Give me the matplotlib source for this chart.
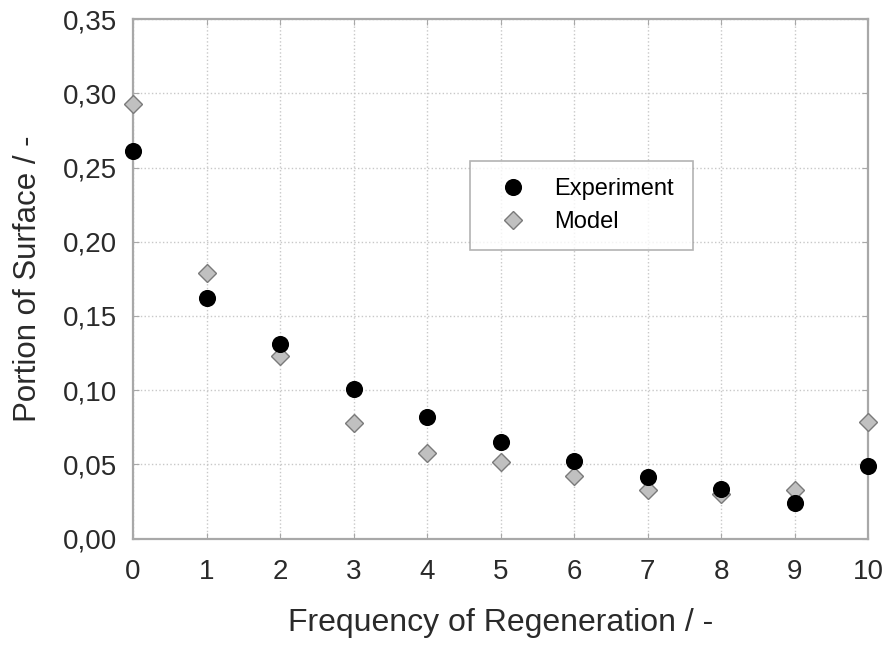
import matplotlib
matplotlib.use("Agg")
import matplotlib.pyplot as plt
from matplotlib.ticker import FuncFormatter, MultipleLocator

plt.rcParams["font.family"] = ["Liberation Sans", "DejaVu Sans"]

# regeneration frequency and surface portions
frequency = [0, 1, 2, 3, 4, 5, 6, 7, 8, 9, 10]
experiment = [0.261, 0.162, 0.131, 0.101, 0.0817, 0.0652, 0.0522, 0.0412, 0.0332, 0.0241, 0.049]
model = [0.2928, 0.179, 0.123, 0.078, 0.0578, 0.0518, 0.0423, 0.0327, 0.0298, 0.0327, 0.0787]

fig = plt.figure(figsize=(8.88, 6.46), dpi=100)
ax = fig.add_axes([0.1498, 0.1664, 0.8277, 0.804])

ax.plot(frequency, model, linestyle="none", marker="D", markersize=9.3,
        markerfacecolor="#c0c0c0", markeredgecolor="#7a7a7a", markeredgewidth=1.0,
        label="Model", clip_on=False, zorder=3)
ax.plot(frequency, experiment, linestyle="none", marker="o", markersize=11.3,
        markerfacecolor="black", markeredgecolor="black",
        label="Experiment", clip_on=False, zorder=4)

ax.set_xlim(0, 10)
ax.set_ylim(0, 0.35)
ax.xaxis.set_major_locator(MultipleLocator(1))
ax.yaxis.set_major_locator(MultipleLocator(0.05))
ax.yaxis.set_major_formatter(FuncFormatter(lambda v, p: f"{v:.2f}".replace(".", ",")))

ax.grid(True, color="#c8c8c8", linestyle=":", linewidth=1.0)
ax.set_axisbelow(True)
for s in ax.spines.values():
    s.set_color("#a8a8a8")
    s.set_linewidth(1.6)
ax.tick_params(direction="in", length=4, color="#a8a8a8", top=True, right=True,
               labelsize=20, colors="#2a2a2a")
ax.tick_params(axis="x", pad=15)
ax.tick_params(axis="y", pad=11.5)

ax.set_xlabel("Frequency of Regeneration / -", fontsize=23, color="#2a2a2a", labelpad=16)
ax.set_ylabel("Portion of Surface / -", fontsize=22.5, color="#2a2a2a", labelpad=14)

handles, labels = ax.get_legend_handles_labels()
leg = ax.legend(handles[::-1], labels[::-1], loc="upper left",
                bbox_to_anchor=(0.4585, 0.5, 0.3034, 0.2267), mode="expand",
                fontsize=17, frameon=True, fancybox=False, borderpad=0.72,
                handlelength=2.2, handletextpad=0.64, labelspacing=0.48,
                borderaxespad=0)
leg.get_frame().set_edgecolor("#a0a0a0")
leg.get_frame().set_linewidth(1.2)

fig.savefig("out.png", dpi=100)
